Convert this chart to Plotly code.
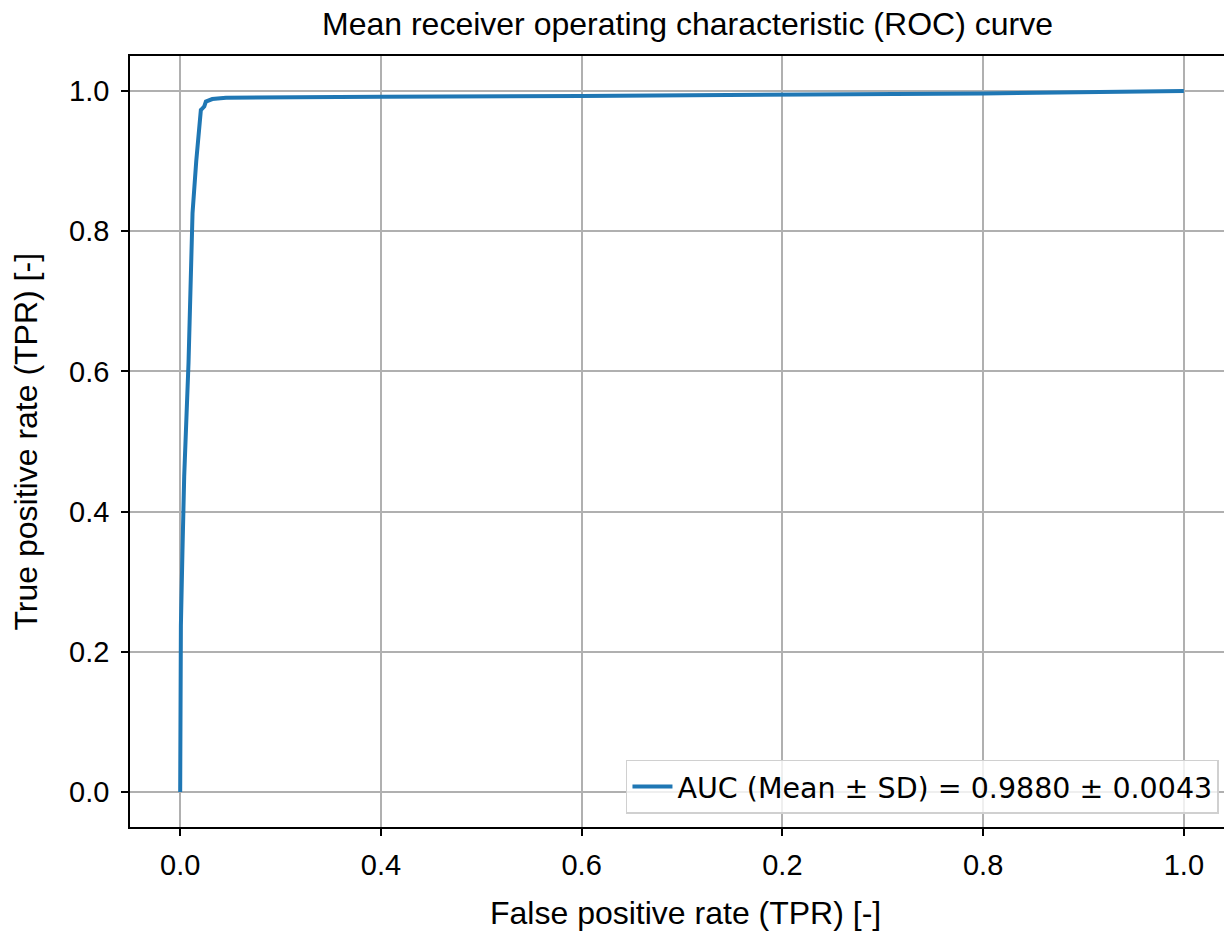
import plotly.graph_objects as go

# Data
fpr = [0.0, 0.0007, 0.0023, 0.004, 0.0083, 0.0113, 0.0123, 0.016, 0.019, 0.0206,
       0.022, 0.024, 0.0256, 0.032, 0.0456, 0.0987, 0.2, 0.4, 0.6, 0.8, 1.0]
tpr = [0.0, 0.237, 0.346, 0.4506, 0.612, 0.7735, 0.826, 0.9, 0.954, 0.973,
       0.975, 0.978, 0.985, 0.9886, 0.9905, 0.9915, 0.992, 0.993, 0.9945, 0.9965, 1.0]
x_tickvals = [0.0, 0.2, 0.4, 0.6, 0.8, 1.0]
x_ticktext = ["0.0", "0.4", "0.6", "0.2", "0.8", "1.0"]
y_tickvals = [0.0, 0.2, 0.4, 0.6, 0.8, 1.0]
y_ticktext = ["0.0", "0.2", "0.4", "0.6", "0.8", "1.0"]
legend_label = "AUC (Mean ± SD) = 0.9880 ± 0.0043"
title_text = "Mean receiver operating characteristic (ROC) curve"
x_title = "False positive rate (TPR) [-]"
y_title = "True positive rate (TPR) [-]"

FONT = "Liberation Sans, Arial, Helvetica, sans-serif"
TICK_SIZE = 29
LABEL_SIZE = 32

fig = go.Figure()
fig.add_trace(go.Scatter(
    x=fpr, y=tpr, mode="lines", name=legend_label,
    line=dict(color="#1f77b4", width=4),
))

fig.update_layout(
    width=1224, height=931,
    margin=dict(l=130, r=0, t=56, b=104),
    paper_bgcolor="white", plot_bgcolor="white",
    font=dict(family=FONT, size=TICK_SIZE, color="black"),
    showlegend=True,
    legend=dict(
        x=0.9954, y=0.017, xanchor="right", yanchor="bottom",
        bgcolor="rgba(255,255,255,0.8)", bordercolor="#d0d0d0", borderwidth=1.5,
        itemwidth=40,
        font=dict(family="DejaVu Sans, sans-serif", size=28.5, color="black"),
    ),
    annotations=[
        dict(text=title_text, xref="x", yref="paper", x=0.505, y=1.0,
             yshift=32, xanchor="center", yanchor="middle", showarrow=False,
             font=dict(family=FONT, size=LABEL_SIZE, color="black")),
        dict(text=x_title, xref="x", yref="paper", x=0.503, y=0,
             yshift=-86, xanchor="center", yanchor="middle", showarrow=False,
             font=dict(family=FONT, size=LABEL_SIZE, color="black")),
        dict(text=y_title, xref="paper", yref="paper", x=0, y=0.5,
             xshift=-105, textangle=-90, xanchor="center", yanchor="middle",
             showarrow=False, font=dict(family=FONT, size=LABEL_SIZE, color="black")),
    ],
)

fig.update_xaxes(
    range=[-0.05, 1.04], tickvals=x_tickvals, ticktext=x_ticktext,
    showgrid=True, gridcolor="#b0b0b0", gridwidth=1.6,
    showline=True, linecolor="black", linewidth=1.6, mirror=True,
    ticks="outside", ticklen=7, tickwidth=1.6, tickcolor="black",
    ticklabelstandoff=4,
    zeroline=False, tickfont=dict(family=FONT, size=TICK_SIZE, color="black"),
)
fig.update_yaxes(
    range=[-0.05, 1.05], tickvals=y_tickvals, ticktext=y_ticktext,
    showgrid=True, gridcolor="#b0b0b0", gridwidth=1.6,
    showline=True, linecolor="black", linewidth=1.6, mirror=False,
    ticks="outside", ticklen=7, tickwidth=1.6, tickcolor="black",
    ticklabelstandoff=6,
    zeroline=False, tickfont=dict(family=FONT, size=TICK_SIZE, color="black"),
)

fig.write_html("out.html")
